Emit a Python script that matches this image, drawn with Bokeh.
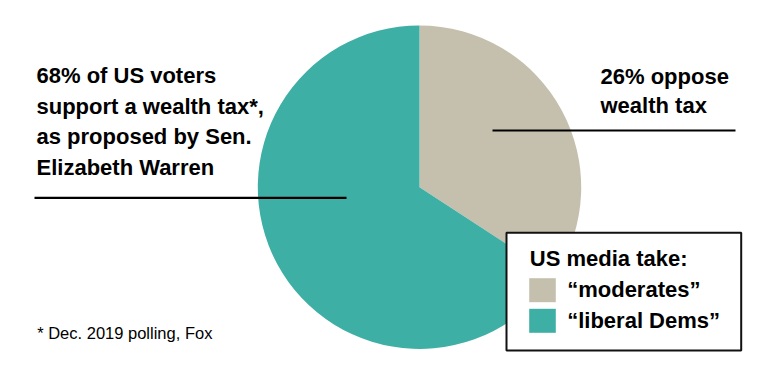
import numpy as np
from bokeh.plotting import figure
from bokeh.models import Range1d
from bokeh.core.properties import value
from bokeh.embed import file_html
from bokeh.resources import INLINE

# ---- data ----
categories = ["\u201cmoderates\u201d", "\u201cliberal Dems\u201d"]
slice_shares = [34.2, 65.8]          # share of the pie drawn for each slice (%)
colors = ["#C5C0AE", "#3EAFA4"]
left_label = ["68% of US voters", "support a wealth tax*,", "as proposed by Sen.", "Elizabeth Warren"]
right_label = ["26% oppose", "wealth tax"]
legend_title = "US media take:"
footnote = "* Dec. 2019 polling, Fox"

# ---- figure (data y = 369 - screen y, data x = screen x) ----
p = figure(width=784, height=369, output_backend="svg", toolbar_location=None,
           x_range=Range1d(0, 784), y_range=Range1d(0, 369), min_border=0)
p.axis.visible = False
p.grid.visible = False
p.outline_line_color = None
p.background_fill_color = "white"
p.border_fill_color = "white"

FONT = value("Liberation Sans")
TOFF = -8.5   # text baseline correction

def Y(sy):
    return 369 - sy

def TY(sy):
    return 369 - (sy + TOFF)

# ---- pie ----
cx, cy, r = 419, Y(186.7), 161.7
fr = np.array(slice_shares) / np.sum(slice_shares)
ends = np.cumsum(fr)
starts = ends - fr
start_angles = np.pi / 2 - 2 * np.pi * starts
end_angles = np.pi / 2 - 2 * np.pi * ends
p.wedge(x=[cx] * len(fr), y=[cy] * len(fr), radius=r,
        start_angle=list(start_angles), end_angle=list(end_angles),
        direction="clock", fill_color=colors, line_color=None)

# ---- annotation lines ----
p.line([34, 346], [Y(197.3), Y(197.3)], line_color="black", line_width=2.2)
p.line([492, 735], [Y(130), Y(130)], line_color="black", line_width=2.2)

# ---- left label ----
lb = [83.5, 114, 144.5, 175]
p.text(x=[36] * len(left_label), y=[TY(b) for b in lb], text=left_label,
       text_font=FONT, text_font_style="bold", text_font_size="22px",
       text_color="black", text_baseline="alphabetic", text_align="left")

# ---- right label ----
rb = [84.3, 113.5]
p.text(x=[600] * len(right_label), y=[TY(b) for b in rb], text=right_label,
       text_font=FONT, text_font_style="bold", text_font_size="22px",
       text_color="black", text_baseline="alphabetic", text_align="left")

# ---- legend box ----
p.quad(left=[506], right=[740.7], top=[Y(232.3)], bottom=[Y(350)],
       fill_color="white", line_color="#111111", line_width=2)
p.text(x=[529.3], y=[TY(266)], text=[legend_title],
       text_font=FONT, text_font_style="bold", text_font_size="22px",
       text_color="black", text_baseline="alphabetic", text_align="left")
sq_top = [277.7, 308.3]
p.quad(left=[528.7] * 2, right=[555.3] * 2,
       top=[Y(t) for t in sq_top], bottom=[Y(t + 24) for t in sq_top],
       fill_color=colors, line_color=None)
p.text(x=[566.7] * 2, y=[TY(297.3), TY(328.3)], text=categories,
       text_font=FONT, text_font_style="bold", text_font_size="22px",
       text_color="black", text_baseline="alphabetic", text_align="left")

# ---- footnote ----
p.text(x=[36.7], y=[TY(339.3) - 2], text=[footnote],
       text_font=FONT, text_font_size="16.5px",
       text_color="black", text_baseline="alphabetic", text_align="left")

open("out.html", "w").write(file_html(p, INLINE))
